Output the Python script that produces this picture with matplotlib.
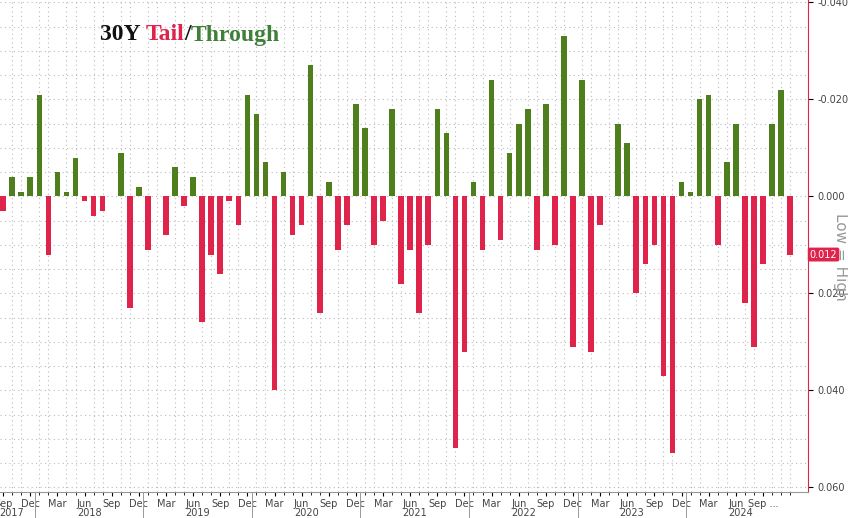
import matplotlib
matplotlib.use("Agg")
import matplotlib.pyplot as plt
import numpy as np

start_year, start_month = 2017, 9
values = [0.003,-0.004,-0.001,-0.004,-0.021,0.012,-0.005,-0.001,-0.008,0.001,0.004,0.003,
          0.000,-0.009,0.023,-0.002,0.011,0.000,0.008,-0.006,0.002,-0.004,0.026,0.012,
          0.016,0.001,0.006,-0.021,-0.017,-0.007,0.040,-0.005,0.008,0.006,-0.027,0.024,
          -0.003,0.011,0.006,-0.019,-0.014,0.010,0.005,-0.018,0.018,0.011,0.024,0.010,
          -0.018,-0.013,0.052,0.032,-0.003,0.011,-0.024,0.009,-0.009,-0.015,-0.018,0.011,
          -0.019,0.010,-0.033,0.031,-0.024,0.032,0.006,0.000,-0.015,-0.011,0.020,0.014,
          0.010,0.037,0.053,-0.003,-0.001,-0.020,-0.021,0.010,-0.007,-0.015,0.022,0.031,
          0.014,-0.015,-0.022,0.012]
yticks = [-0.04,-0.02,0.0,0.02,0.04,0.06]
mnames = ["Jan","Feb","Mar","Apr","May","Jun","Jul","Aug","Sep","Oct","Nov","Dec"]

GREEN = "#4e7f1c"; RED = "#e0234a"
fig = plt.figure(figsize=(8.48,5.18), dpi=100)
ax = fig.add_axes([0.0, 0.05, 0.953, 0.95])
x = np.arange(len(values))
months = [(start_month-1+i) % 12 for i in x]
years = [start_year + (start_month-1+i)//12 for i in x]
cols = [GREEN if v < 0 else RED for v in values]
ax.bar(x, values, width=0.62, color=cols, zorder=3)
ax.set_xlim(-0.35, 89)
ax.set_ylim(0.061, -0.0405)
ax.yaxis.tick_right()
ax.set_yticks(yticks)
ax.set_yticklabels([f"{t:.3f}" for t in yticks], fontsize=7, color="#444")
ax.set_yticks(np.arange(-0.040, 0.0601, 0.005), minor=True)
ax.tick_params(axis='y', which='minor', length=0)
ax.grid(True, which='both', axis='y', linestyle=(0,(1,3)), color="#bbbbbb", lw=0.8, zorder=0)
ax.set_xticks(x, minor=True)
ax.grid(True, which='minor', axis='x', linestyle=(0,(1,3)), color="#bbbbbb", lw=0.8, zorder=0)
for s in ["top","left"]:
    ax.spines[s].set_visible(False)
ax.spines["right"].set_color(RED)
ax.spines["bottom"].set_color("#999")
tk = [i for i in x if months[i] % 3 == 2]
if months[tk[-1]] == 11 and tk[-1] >= len(values) - 2:
    tk = tk[:-1]
labs = [mnames[months[i]] for i in tk]
labs[-1] = labs[-1] + " ..."
ax.set_xticks(tk)
ax.set_xticklabels(labs, fontsize=7, color="#444")
ax.tick_params(axis='x', which='major', length=3, pad=2)
ax.tick_params(axis='x', which='minor', length=2)
# year labels
for yr in sorted(set(years)):
    idx = [i for i in x if years[i] == yr]
    first = yr == start_year
    c = idx[0] - 0.4 if first else (idx[0] + idx[-1]) / 2
    ax.text(c, -0.042, str(yr), transform=ax.get_xaxis_transform(), ha='left' if first else 'center',
            va='center', fontsize=7, color="#444")
    if not first:
        ax.plot([idx[0]-0.5]*2, [0, -0.06], transform=ax.get_xaxis_transform(), color="#999", lw=0.7, clip_on=False)
# last value label
ax.text(1.002, 0.012, f"{values[-1]:.3f}", transform=ax.get_yaxis_transform(), fontsize=7, color="white",
        va='center', ha='left', bbox=dict(boxstyle="round,pad=0.2", fc=RED, ec="none"))
ax.text(1.04, 0.0035, "Low = High", transform=ax.get_yaxis_transform(), rotation=270, fontsize=11,
        color="#999", va='top', ha='center')
# title
fx, fy = 100/848, 1-35/518
parts = [("30Y ", "#111"), ("Tail", RED), ("/", "#111"), ("Through", "#3f7f3a")]
t = None
for s, c in parts:
    if t is None:
        t = fig.text(fx, fy, s, color=c, fontsize=17, fontweight='bold', family="Liberation Serif", va='center')
    else:
        t = ax.annotate(s, xycoords=t, xy=(1, 0), va='bottom', color=c, fontsize=17, fontweight='bold',
                        family="Liberation Serif")
fig.savefig("out.png", dpi=100)
